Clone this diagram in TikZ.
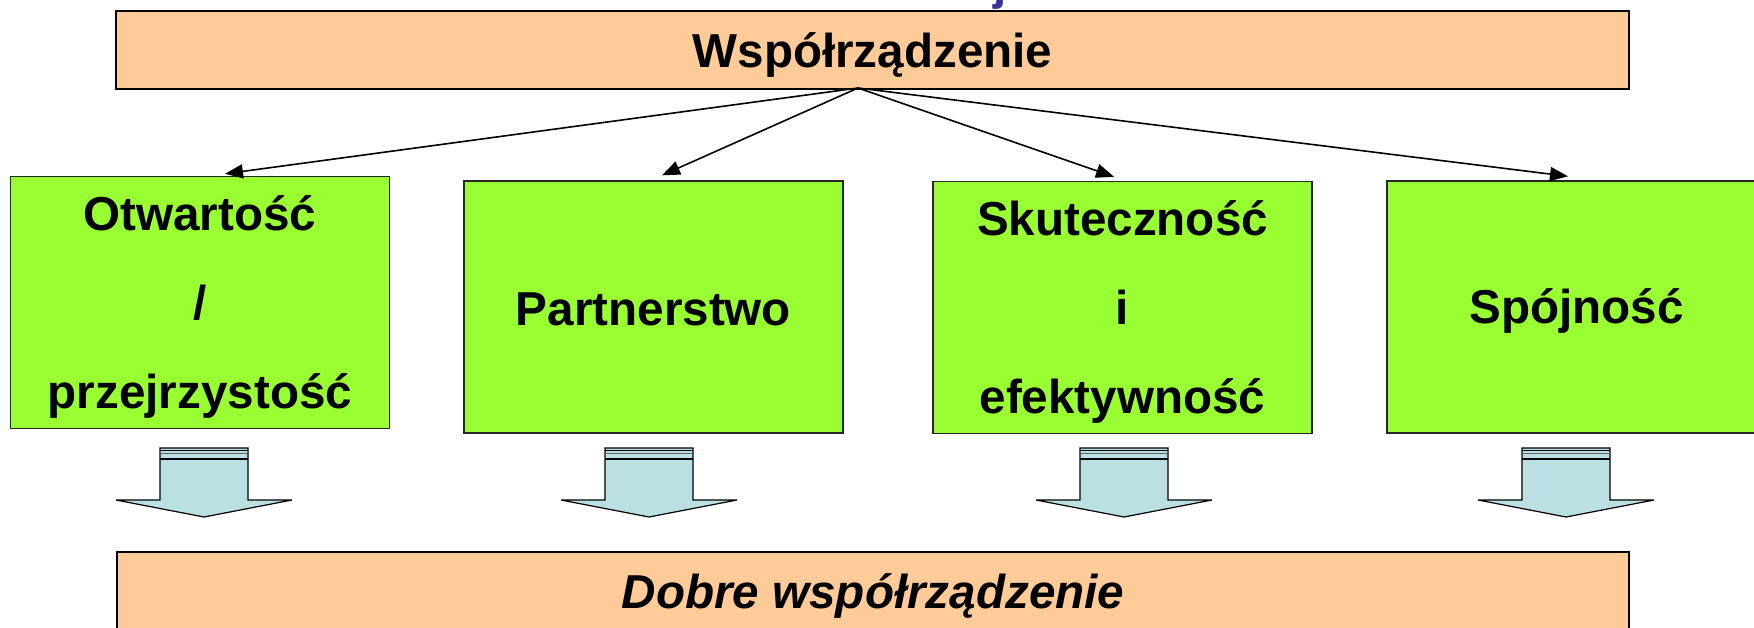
\documentclass[tikz,border=0pt]{standalone}
\usepackage{fontspec}
\setmainfont{Liberation Sans}
\usetikzlibrary{arrows.meta,calc}
\definecolor{peach}{HTML}{FFCC99}
\definecolor{lime}{HTML}{99FF33}
\definecolor{paleblue}{HTML}{BBE0E3}
\definecolor{titleblue}{HTML}{333399}
\newcommand{\lowerby}[2]{\raisebox{-#1}[\height][\depth]{#2}}
\begin{document}
\begin{tikzpicture}[x=0.5pt,y=-0.5pt,
  peachbox/.style={draw=black, line width=1pt, fill=peach, inner sep=0pt,
    font=\fontsize{23.8pt}{28pt}\selectfont\bfseries},
  limebox/.style={draw=black!85, line width=0.7pt, fill=lime, inner sep=0pt,
    minimum width=189.5pt, minimum height=126pt, align=center,
    font=\fontsize{23.8pt}{44.3pt}\selectfont\bfseries},
  conn/.style={line width=0.8pt, -{Triangle[length=9pt,width=7pt]}},
  blockarrow/.pic={
    \draw[line width=0.6pt, fill=paleblue] (-44,448) -- (-44,500) -- (-88,500) -- (0,517)
      -- (88,500) -- (44,500) -- (44,448) -- cycle;
    \draw[line width=0.7pt] (-44,450.5) -- (44,450.5);
    \draw[line width=0.4pt, black!60] (-44,453.5) -- (44,453.5);
    \draw[line width=0.8pt] (-44,459) -- (44,459);
  }
]
\useasboundingbox (0,0) rectangle (1754,627);
\clip (0,0) rectangle (1754,627);

\node[anchor=base west, inner sep=0pt, text=titleblue,
  font=\fontsize{23.8pt}{28pt}\selectfont\bfseries] (titlefrag) at (993,-1) {j};

\node[peachbox, minimum width=756.5pt, minimum height=39pt] (top) at (872.5,50) {\lowerby{2.5pt}{Współrządzenie}};

\node[limebox] (b1) at (200,302.5) {\lowerby{2.2pt}{Otwartość}\\\lowerby{2.2pt}{/}\\\lowerby{2.2pt}{przejrzystość}};
\node[limebox] (b2) at (653.5,307) {\lowerby{1.2pt}{Partnerstwo}};
\node[limebox] (b3) at (1122.5,307.5) {\lowerby{2.2pt}{Skuteczność}\\\lowerby{2.2pt}{i}\\\lowerby{2.2pt}{efektywność}};
\node[limebox] (b4) at (1576.5,307) {\lowerby{2pt}{Spójność}};

\node[peachbox, minimum width=756pt, minimum height=41pt,
  font=\fontsize{23.8pt}{28pt}\selectfont\bfseries\itshape] (bottom) at (873,593) {\lowerby{1.7pt}{Dobre współrządzenie}};

\coordinate (apex) at (858,88);
\draw[conn] (apex) -- ($(b1.north)+(25,-2)$);
\draw[conn] (apex) -- ($(b2.north)+(8.5,-5)$);
\draw[conn] (apex) -- ($(b3.north)+(-8.5,-4)$);
\draw[conn] (apex) -- ($(b4.north)+(-8.5,-4)$);

\pic at (204,0) {blockarrow};
\pic at (649,0) {blockarrow};
\pic at (1124,0) {blockarrow};
\pic at (1566,0) {blockarrow};
\end{tikzpicture}
\end{document}
